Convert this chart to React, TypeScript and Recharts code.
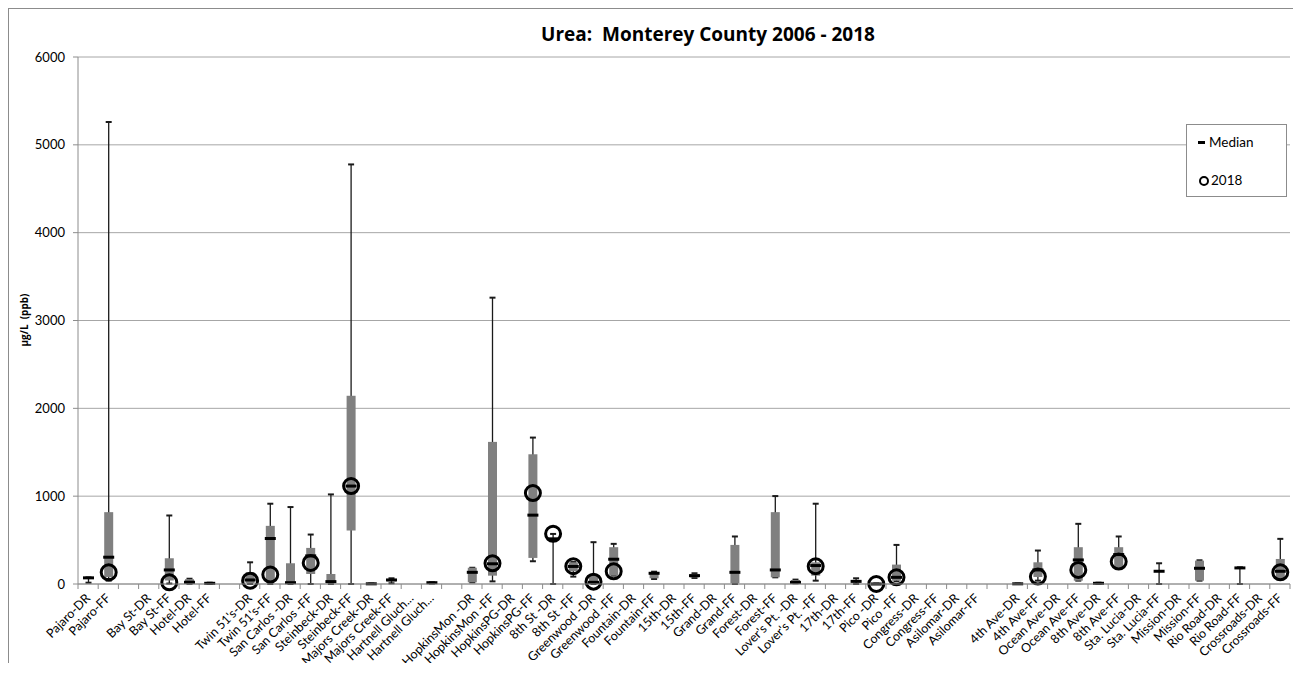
import React from 'react';
import { ComposedChart, Bar, XAxis, YAxis, CartesianGrid } from 'recharts';

const sites = [
  'Pajaro-DR', 'Pajaro-FF', '', 'Bay St-DR', 'Bay St-FF', 'Hotel-DR', 'Hotel-FF', '',
  "Twin 51's-DR", "Twin 51's-FF", 'San Carlos -DR', 'San Carlos -FF', 'Steinbeck-DR', 'Steinbeck-FF',
  'Majors Creek-DR', 'Majors Creek-FF', 'Hartnell Gluch...', 'Hartnell Gluch...', '',
  'HopkinsMon -DR', 'HopkinsMon -FF', 'HopkinsPG-DR', 'HopkinsPG-FF', '8th St -DR', '8th St -FF',
  'Greenwood -DR', 'Greenwood -FF', 'Fountain-DR', 'Fountain-FF', '15th-DR', '15th-FF',
  'Grand-DR', 'Grand-FF', 'Forest-DR', 'Forest-FF', "Lover's Pt. -DR", "Lover's Pt. -FF",
  '17th-DR', '17th-FF', 'Pico -DR', 'Pico -FF', 'Congress-DR', 'Congress-FF',
  'Asilomar-DR', 'Asilomar-FF', '', '4th Ave-DR', '4th Ave-FF', 'Ocean Ave-DR', 'Ocean Ave-FF',
  '8th Ave-DR', '8th Ave-FF', 'Sta. Lucia-DR', 'Sta. Lucia-FF', 'Mission-DR', 'Mission-FF',
  'Rio Road-DR', 'Rio Road-FF', 'Crossroads-DR', 'Crossroads-FF',
];

const _ = null;
const mins = [15, 38, _, _, 5, 2, 0, _, 0, 0, 0, 0, 0, 0, 0, 8, _, 5, _, 19, 30, _, 259, 0, 84, 0, 95, _, 57, _, 69, _, 0, _, 76, 8, 38, _, 0, 0, 30, _, _, _, _, _, 0, 38, _, 38, 0, 171, _, 0, _, 38, _, 0, _, 57];
const q1s = [60, 80, _, _, 40, 5, 2, _, 10, 30, 8, 114, 8, 609, 0, 30, _, 8, _, 19, 95, _, 297, 495, 145, 5, 95, _, 65, _, 75, _, 8, _, 76, 8, 95, _, 20, 0, 38, _, _, _, _, _, 0, 80, _, 38, 2, 171, _, 140, _, 38, _, 180, _, 57];
const medians = [70, 305, _, _, 160, 20, 8, _, 46, 518, 15, 320, 27, 1115, 2, 46, _, 15, _, 133, 230, _, 784, 514, 200, 19, 282, _, 122, _, 95, _, 133, _, 160, 19, 210, _, 30, 0, 76, _, _, _, _, _, 2, 160, _, 274, 8, 335, _, 145, _, 179, _, 183, _, 145];
const q3s = [72, 818, _, _, 293, 55, 15, _, 133, 662, 236, 411, 114, 2143, 5, 50, _, 20, _, 185, 1618, _, 1477, 525, 247, 95, 419, _, 133, _, 115, _, 445, _, 818, 46, 247, _, 45, 5, 221, _, _, _, _, _, 5, 247, _, 419, 12, 419, _, 150, _, 266, _, 188, _, 285];
const maxs = [75, 5260, _, _, 780, 60, 15, _, 247, 914, 876, 563, 1020, 4777, 5, 65, _, 20, _, 185, 3260, _, 1667, 570, 250, 476, 457, _, 140, _, 122, _, 541, _, 1001, 50, 914, _, 65, 5, 445, _, _, _, _, _, 5, 381, _, 685, 15, 541, _, 236, _, 270, _, 190, _, 514];
const y2018 = [_, 133, _, _, 19, _, _, _, 38, 107, _, 240, _, 1115, _, _, _, _, _, _, 236, _, 1035, 571, 202, 27, 145, _, _, _, _, _, _, _, _, _, 202, _, _, 0, 76, _, _, _, _, _, _, 84, _, 160, _, 255, _, _, _, _, _, _, _, 133];

const yTicks = [0, 1000, 2000, 3000, 4000, 5000, 6000];

const rows = sites.map((site, i) => {
  const lo = mins[i] == null ? null : Math.min(mins[i], y2018[i] ?? mins[i]);
  const hi = maxs[i] == null ? null : Math.max(maxs[i], y2018[i] ?? maxs[i]);
  return {
    idx: i,
    site,
    min: mins[i],
    q1: q1s[i],
    median: medians[i],
    q3: q3s[i],
    max: maxs[i],
    last: y2018[i],
    range: lo == null ? null : [lo, hi],
  };
});

const CHART_W = 1292;
const CHART_H = 674;
const MARGIN = { top: 48, right: 11, left: 29, bottom: 0 };
const Y_W = 40;
const PLOT_W = CHART_W - MARGIN.left - MARGIN.right - Y_W;
const BAND = PLOT_W / sites.length;
const FONT = 'Lato, "Liberation Sans", sans-serif';
const BOLD_FONT = '"Open Sans", "Liberation Sans", sans-serif';

const BoxShape = (props: any) => {
  const { x, y, width, height, payload } = props;
  if (!payload || !payload.range) return <g />;
  const [lo, hi] = payload.range;
  const h = Math.abs(height);
  const top = height < 0 ? y + height : y;
  const k = h / (hi - lo);
  const py = (v: number) => top + (hi - v) * k;
  const cx = x + width / 2;
  const boxW = 9;
  return (
    <g>
      <line x1={cx} x2={cx} y1={py(payload.max)} y2={py(payload.min)} stroke="#1a1a1a" strokeWidth={1.3} />
      <line x1={cx - 3} x2={cx + 3} y1={py(payload.max)} y2={py(payload.max)} stroke="#1a1a1a" strokeWidth={2} />
      <line x1={cx - 3} x2={cx + 3} y1={py(payload.min)} y2={py(payload.min)} stroke="#1a1a1a" strokeWidth={2} />
      <rect x={cx - boxW / 2} y={py(payload.q3)} width={boxW} height={Math.max(py(payload.q1) - py(payload.q3), 1)} fill="#808080" />
      <rect x={cx - 5.5} y={py(payload.median) - 1.5} width={11} height={3} fill="#000" />
      {payload.last != null && (
        <circle cx={cx} cy={py(payload.last)} r={7.5} fill="none" stroke="#000" strokeWidth={3} />
      )}
    </g>
  );
};

const SiteTick = (props: any) => {
  const { x, y, payload, index } = props;
  const axisY = y - 8;
  const label = sites[payload.value] ?? '';
  return (
    <g>
      <line x1={x - BAND / 2} x2={x - BAND / 2} y1={axisY} y2={axisY + 5} stroke="#8c8c8c" />
      {index === sites.length - 1 && (
        <line x1={x + BAND / 2} x2={x + BAND / 2} y1={axisY} y2={axisY + 5} stroke="#8c8c8c" />
      )}
      <text
        x={x + 3}
        y={y + 7}
        textAnchor="end"
        transform={`rotate(-45, ${x + 3}, ${y + 7})`}
        fontSize={12.5}
        fontFamily={FONT}
        fill="#000"
      >
        {label}
      </text>
    </g>
  );
};

const YLabel = () => (
  <text
    x={15}
    y={311}
    transform="rotate(-90, 15, 311)"
    textAnchor="middle"
    dominantBaseline="central"
    fontSize={10}
    fontWeight="bold"
    fontFamily={BOLD_FONT}
    fill="#000"
    style={{ whiteSpace: 'pre' }}
  >
    {'µg/L  (ppb)'}
  </text>
);

const XLabel = () => (
  <text
    x={485}
    y={659}
    textAnchor="middle"
    dominantBaseline="central"
    fontSize={12}
    fontWeight="bold"
    fontFamily={BOLD_FONT}
    fill="#000"
  >
    Sites
  </text>
);

export default function App() {
  return (
    <div
      style={{
        position: 'relative',
        width: CHART_W,
        height: CHART_H,
        borderTop: '1px solid #8c8c8c',
        borderLeft: '1px solid #8c8c8c',
        marginBottom: -20,
        fontFamily: FONT,
        background: '#fff',
      }}
    >
      <div
        style={{
          position: 'absolute',
          left: 449,
          top: 13,
          width: 500,
          textAlign: 'center',
          fontSize: 19,
          fontFamily: BOLD_FONT,
          fontWeight: 700,
          whiteSpace: 'pre',
          lineHeight: '24px',
        }}
      >
        {'Urea:  Monterey County 2006 - 2018'}
      </div>
      <ComposedChart width={CHART_W} height={CHART_H} data={rows} margin={MARGIN} barSize={9}>
        <CartesianGrid vertical={false} stroke="#a6a6a6" />
        <XAxis
          dataKey="idx"
          type="category"
          interval={0}
          height={99}
          tickLine={false}
          tickSize={5}
          tickMargin={3}
          axisLine={{ stroke: '#8c8c8c' }}
          tick={<SiteTick />}
          label={<XLabel />}
        />
        <YAxis
          domain={[0, 6000]}
          ticks={yTicks}
          width={Y_W}
          tickSize={5}
          tickMargin={8}
          axisLine={{ stroke: '#8c8c8c' }}
          tickLine={{ stroke: '#8c8c8c' }}
          tick={{ fontSize: 13, fill: '#000', fontFamily: FONT }}
          label={<YLabel />}
        />
        <Bar dataKey="range" shape={BoxShape} isAnimationActive={false} />
      </ComposedChart>
      <div
        style={{
          position: 'absolute',
          left: 1177,
          top: 115,
          width: 99,
          height: 71,
          border: '1px solid #8c8c8c',
          background: '#fff',
          fontSize: 13.5,
        }}
      >
        <div style={{ position: 'absolute', left: 11, top: 16, width: 7, height: 3, background: '#000' }} />
        <div style={{ position: 'absolute', left: 22, top: 9, lineHeight: '16px' }}>Median</div>
        <div
          style={{
            position: 'absolute',
            left: 12,
            top: 51,
            width: 6,
            height: 6,
            borderRadius: '50%',
            border: '2px solid #000',
          }}
        />
        <div style={{ position: 'absolute', left: 24, top: 47, lineHeight: '16px' }}>2018</div>
      </div>
    </div>
  );
}
